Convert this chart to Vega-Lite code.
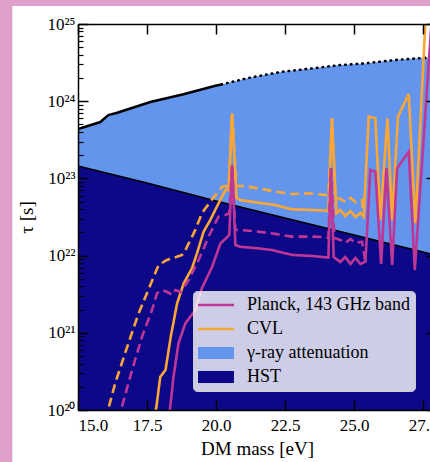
{
  "$schema": "https://vega.github.io/schema/vega-lite/v6.json",
  "autosize": "none",
  "width": 352,
  "height": 386,
  "padding": {"left": 78, "top": 24, "right": 0, "bottom": 52},
  "background": "#dfa0c9",
  "config": {
    "view": {"stroke": null},
    "axis": {
      "grid": false,
      "domainColor": "black",
      "domainWidth": 1.5,
      "tickColor": "black",
      "tickWidth": 1.5,
      "labelColor": "black",
      "titleColor": "black",
      "labelFont": "Liberation Serif",
      "titleFont": "Liberation Serif",
      "titleFontWeight": "normal",
      "labelFontSize": 17,
      "titleFontSize": 19
    }
  },
  "datasets": {
    "attenuation": [
      {"m": 15.0, "tau": 4.37e23, "label": "γ-ray attenuation"},
      {"m": 15.81, "tau": 5.37e23, "label": "γ-ray attenuation"},
      {"m": 16.1, "tau": 6.61e23, "label": "γ-ray attenuation"},
      {"m": 16.42, "tau": 7.08e23, "label": "γ-ray attenuation"},
      {"m": 17.62, "tau": 9.77e23, "label": "γ-ray attenuation"},
      {"m": 18.82, "tau": 1.23e24, "label": "γ-ray attenuation"},
      {"m": 19.98, "tau": 1.585e24, "label": "γ-ray attenuation"},
      {"m": 20.2, "tau": 1.65e24, "label": "γ-ray attenuation"},
      {"m": 21.17, "tau": 2.0e24, "label": "γ-ray attenuation"},
      {"m": 22.33, "tau": 2.39e24, "label": "γ-ray attenuation"},
      {"m": 23.6, "tau": 2.69e24, "label": "γ-ray attenuation"},
      {"m": 24.5, "tau": 2.94e24, "label": "γ-ray attenuation"},
      {"m": 25.41, "tau": 3.09e24, "label": "γ-ray attenuation"},
      {"m": 26.5, "tau": 3.42e24, "label": "γ-ray attenuation"},
      {"m": 27.51, "tau": 3.63e24, "label": "γ-ray attenuation"},
      {"m": 28.0, "tau": 3.72e24, "label": "γ-ray attenuation"}
    ],
    "hst": [
      {"m": 15.0, "tau": 1.45e23, "label": "HST"},
      {"m": 17.5, "tau": 8.71e22, "label": "HST"},
      {"m": 20.0, "tau": 5.09e22, "label": "HST"},
      {"m": 22.5, "tau": 3.07e22, "label": "HST"},
      {"m": 25.0, "tau": 1.85e22, "label": "HST"},
      {"m": 27.5, "tau": 1.11e22, "label": "HST"},
      {"m": 28.0, "tau": 1.0e22, "label": "HST"}
    ],
    "curves": [
      {"m": 15.99, "tau": 7.41e19, "series": "CVL", "style": "dashed"},
      {"m": 16.35, "tau": 2.24e20, "series": "CVL", "style": "dashed"},
      {"m": 16.83, "tau": 7.38e20, "series": "CVL", "style": "dashed"},
      {"m": 17.2, "tau": 1.8e21, "series": "CVL", "style": "dashed"},
      {"m": 17.62, "tau": 4.16e21, "series": "CVL", "style": "dashed"},
      {"m": 17.92, "tau": 7.55e21, "series": "CVL", "style": "dashed"},
      {"m": 18.04, "tau": 8.02e21, "series": "CVL", "style": "dashed"},
      {"m": 18.22, "tau": 8.77e21, "series": "CVL", "style": "dashed"},
      {"m": 18.46, "tau": 9.31e21, "series": "CVL", "style": "dashed"},
      {"m": 18.77, "tau": 1.02e22, "series": "CVL", "style": "dashed"},
      {"m": 18.89, "tau": 1.18e22, "series": "CVL", "style": "dashed"},
      {"m": 19.25, "tau": 2.15e22, "series": "CVL", "style": "dashed"},
      {"m": 19.49, "tau": 3.56e22, "series": "CVL", "style": "dashed"},
      {"m": 19.79, "tau": 4.99e22, "series": "CVL", "style": "dashed"},
      {"m": 20.22, "tau": 7.8e22, "series": "CVL", "style": "dashed"},
      {"m": 20.46, "tau": 7.98e22, "series": "CVL", "style": "dashed"},
      {"m": 20.58, "tau": 6.97e23, "series": "CVL", "style": "dashed"},
      {"m": 20.74, "tau": 7.98e22, "series": "CVL", "style": "dashed"},
      {"m": 20.94, "tau": 7.98e22, "series": "CVL", "style": "dashed"},
      {"m": 21.54, "tau": 7.45e22, "series": "CVL", "style": "dashed"},
      {"m": 22.15, "tau": 6.73e22, "series": "CVL", "style": "dashed"},
      {"m": 22.75, "tau": 6.28e22, "series": "CVL", "style": "dashed"},
      {"m": 23.36, "tau": 6.41e22, "series": "CVL", "style": "dashed"},
      {"m": 23.96, "tau": 6.1e22, "series": "CVL", "style": "dashed"},
      {"m": 24.07, "tau": 6.1e22, "series": "CVL", "style": "dashed"},
      {"m": 24.2, "tau": 6.01e23, "series": "CVL", "style": "dashed"},
      {"m": 24.32, "tau": 5.74e22, "series": "CVL", "style": "dashed"},
      {"m": 24.5, "tau": 5.41e22, "series": "CVL", "style": "dashed"},
      {"m": 24.68, "tau": 4.94e22, "series": "CVL", "style": "dashed"},
      {"m": 24.87, "tau": 5.57e22, "series": "CVL", "style": "dashed"},
      {"m": 25.05, "tau": 4.94e22, "series": "CVL", "style": "dashed"},
      {"m": 25.29, "tau": 5.25e22, "series": "CVL", "style": "dashed"},
      {"m": 25.35, "tau": 3.19e22, "series": "CVL", "style": "dashed"},

      {"m": 17.76, "tau": 7.41e19, "series": "CVL", "style": "solid"},
      {"m": 17.84, "tau": 1.1e20, "series": "CVL", "style": "solid"},
      {"m": 17.98, "tau": 2.69e20, "series": "CVL", "style": "solid"},
      {"m": 18.17, "tau": 3.3e20, "series": "CVL", "style": "solid"},
      {"m": 18.36, "tau": 8.91e20, "series": "CVL", "style": "solid"},
      {"m": 18.59, "tau": 2.41e21, "series": "CVL", "style": "solid"},
      {"m": 18.83, "tau": 4.38e21, "series": "CVL", "style": "solid"},
      {"m": 19.13, "tau": 6.86e21, "series": "CVL", "style": "solid"},
      {"m": 19.31, "tau": 1.07e22, "series": "CVL", "style": "solid"},
      {"m": 19.55, "tau": 2.04e22, "series": "CVL", "style": "solid"},
      {"m": 19.79, "tau": 2.89e22, "series": "CVL", "style": "solid"},
      {"m": 20.09, "tau": 4.75e22, "series": "CVL", "style": "solid"},
      {"m": 20.34, "tau": 7.08e22, "series": "CVL", "style": "solid"},
      {"m": 20.46, "tau": 7.08e22, "series": "CVL", "style": "solid"},
      {"m": 20.58, "tau": 6.97e23, "series": "CVL", "style": "solid"},
      {"m": 20.74, "tau": 5.57e22, "series": "CVL", "style": "solid"},
      {"m": 20.88, "tau": 5.25e22, "series": "CVL", "style": "solid"},
      {"m": 21.54, "tau": 4.84e22, "series": "CVL", "style": "solid"},
      {"m": 22.15, "tau": 4.52e22, "series": "CVL", "style": "solid"},
      {"m": 22.75, "tau": 3.98e22, "series": "CVL", "style": "solid"},
      {"m": 23.48, "tau": 3.9e22, "series": "CVL", "style": "solid"},
      {"m": 23.96, "tau": 3.82e22, "series": "CVL", "style": "solid"},
      {"m": 24.07, "tau": 3.78e22, "series": "CVL", "style": "solid"},
      {"m": 24.2, "tau": 6.01e23, "series": "CVL", "style": "solid"},
      {"m": 24.36, "tau": 3.53e22, "series": "CVL", "style": "solid"},
      {"m": 24.5, "tau": 3.9e22, "series": "CVL", "style": "solid"},
      {"m": 24.68, "tau": 3.26e22, "series": "CVL", "style": "solid"},
      {"m": 24.87, "tau": 3.78e22, "series": "CVL", "style": "solid"},
      {"m": 25.05, "tau": 3.16e22, "series": "CVL", "style": "solid"},
      {"m": 25.23, "tau": 3.56e22, "series": "CVL", "style": "solid"},
      {"m": 25.35, "tau": 3.19e22, "series": "CVL", "style": "solid"},
      {"m": 25.53, "tau": 6.3e23, "series": "CVL", "style": "solid"},
      {"m": 25.77, "tau": 6.01e23, "series": "CVL", "style": "solid"},
      {"m": 25.95, "tau": 2.89e22, "series": "CVL", "style": "solid"},
      {"m": 26.21, "tau": 6.01e23, "series": "CVL", "style": "solid"},
      {"m": 26.38, "tau": 2.89e22, "series": "CVL", "style": "solid"},
      {"m": 26.59, "tau": 6.3e23, "series": "CVL", "style": "solid"},
      {"m": 26.98, "tau": 1.24e24, "series": "CVL", "style": "solid"},
      {"m": 27.22, "tau": 2.62e22, "series": "CVL", "style": "solid"},
      {"m": 27.58, "tau": 1.02e25, "series": "CVL", "style": "solid"},
      {"m": 27.69, "tau": 3.72e25, "series": "CVL", "style": "solid"},

      {"m": 16.46, "tau": 7.41e19, "series": "Planck, 143 GHz band", "style": "dashed"},
      {"m": 16.59, "tau": 1.1e20, "series": "Planck, 143 GHz band", "style": "dashed"},
      {"m": 16.96, "tau": 3.3e20, "series": "Planck, 143 GHz band", "style": "dashed"},
      {"m": 17.32, "tau": 8.91e20, "series": "Planck, 143 GHz band", "style": "dashed"},
      {"m": 17.68, "tau": 1.97e21, "series": "Planck, 143 GHz band", "style": "dashed"},
      {"m": 17.86, "tau": 3.25e21, "series": "Planck, 143 GHz band", "style": "dashed"},
      {"m": 18.04, "tau": 3.58e21, "series": "Planck, 143 GHz band", "style": "dashed"},
      {"m": 18.22, "tau": 3.4e21, "series": "Planck, 143 GHz band", "style": "dashed"},
      {"m": 18.41, "tau": 3.09e21, "series": "Planck, 143 GHz band", "style": "dashed"},
      {"m": 18.53, "tau": 3.58e21, "series": "Planck, 143 GHz band", "style": "dashed"},
      {"m": 18.71, "tau": 3.37e21, "series": "Planck, 143 GHz band", "style": "dashed"},
      {"m": 19.01, "tau": 4.83e21, "series": "Planck, 143 GHz band", "style": "dashed"},
      {"m": 19.37, "tau": 8.77e21, "series": "Planck, 143 GHz band", "style": "dashed"},
      {"m": 19.73, "tau": 1.76e22, "series": "Planck, 143 GHz band", "style": "dashed"},
      {"m": 20.09, "tau": 3.19e22, "series": "Planck, 143 GHz band", "style": "dashed"},
      {"m": 20.34, "tau": 3.36e22, "series": "Planck, 143 GHz band", "style": "dashed"},
      {"m": 20.48, "tau": 3.55e22, "series": "Planck, 143 GHz band", "style": "dashed"},
      {"m": 20.58, "tau": 1.49e23, "series": "Planck, 143 GHz band", "style": "dashed"},
      {"m": 20.7, "tau": 2.15e22, "series": "Planck, 143 GHz band", "style": "dashed"},
      {"m": 20.88, "tau": 2.15e22, "series": "Planck, 143 GHz band", "style": "dashed"},
      {"m": 21.54, "tau": 2.04e22, "series": "Planck, 143 GHz band", "style": "dashed"},
      {"m": 22.15, "tau": 1.91e22, "series": "Planck, 143 GHz band", "style": "dashed"},
      {"m": 22.75, "tau": 1.76e22, "series": "Planck, 143 GHz band", "style": "dashed"},
      {"m": 23.48, "tau": 1.76e22, "series": "Planck, 143 GHz band", "style": "dashed"},
      {"m": 23.96, "tau": 1.73e22, "series": "Planck, 143 GHz band", "style": "dashed"},
      {"m": 24.07, "tau": 1.71e22, "series": "Planck, 143 GHz band", "style": "dashed"},
      {"m": 24.16, "tau": 1.35e23, "series": "Planck, 143 GHz band", "style": "dashed"},
      {"m": 24.29, "tau": 1.69e22, "series": "Planck, 143 GHz band", "style": "dashed"},
      {"m": 24.5, "tau": 1.59e22, "series": "Planck, 143 GHz band", "style": "dashed"},
      {"m": 24.68, "tau": 1.46e22, "series": "Planck, 143 GHz band", "style": "dashed"},
      {"m": 24.87, "tau": 1.64e22, "series": "Planck, 143 GHz band", "style": "dashed"},
      {"m": 25.05, "tau": 1.46e22, "series": "Planck, 143 GHz band", "style": "dashed"},
      {"m": 25.29, "tau": 1.51e22, "series": "Planck, 143 GHz band", "style": "dashed"},
      {"m": 25.41, "tau": 8.34e21, "series": "Planck, 143 GHz band", "style": "dashed"},

      {"m": 18.27, "tau": 7.41e19, "series": "Planck, 143 GHz band", "style": "solid"},
      {"m": 18.34, "tau": 1.1e20, "series": "Planck, 143 GHz band", "style": "solid"},
      {"m": 18.46, "tau": 2.69e20, "series": "Planck, 143 GHz band", "style": "solid"},
      {"m": 18.64, "tau": 7.31e20, "series": "Planck, 143 GHz band", "style": "solid"},
      {"m": 18.89, "tau": 1.33e21, "series": "Planck, 143 GHz band", "style": "solid"},
      {"m": 19.25, "tau": 1.97e21, "series": "Planck, 143 GHz band", "style": "solid"},
      {"m": 19.49, "tau": 3.8e21, "series": "Planck, 143 GHz band", "style": "solid"},
      {"m": 19.86, "tau": 7.18e21, "series": "Planck, 143 GHz band", "style": "solid"},
      {"m": 20.16, "tau": 1.44e22, "series": "Planck, 143 GHz band", "style": "solid"},
      {"m": 20.37, "tau": 1.69e22, "series": "Planck, 143 GHz band", "style": "solid"},
      {"m": 20.48, "tau": 1.85e22, "series": "Planck, 143 GHz band", "style": "solid"},
      {"m": 20.58, "tau": 1.49e23, "series": "Planck, 143 GHz band", "style": "solid"},
      {"m": 20.7, "tau": 1.37e22, "series": "Planck, 143 GHz band", "style": "solid"},
      {"m": 20.88, "tau": 1.3e22, "series": "Planck, 143 GHz band", "style": "solid"},
      {"m": 21.54, "tau": 1.24e22, "series": "Planck, 143 GHz band", "style": "solid"},
      {"m": 22.03, "tau": 1.18e22, "series": "Planck, 143 GHz band", "style": "solid"},
      {"m": 22.75, "tau": 1.02e22, "series": "Planck, 143 GHz band", "style": "solid"},
      {"m": 23.48, "tau": 9.89e21, "series": "Planck, 143 GHz band", "style": "solid"},
      {"m": 23.96, "tau": 9.51e21, "series": "Planck, 143 GHz band", "style": "solid"},
      {"m": 24.07, "tau": 9.46e21, "series": "Planck, 143 GHz band", "style": "solid"},
      {"m": 24.16, "tau": 1.35e23, "series": "Planck, 143 GHz band", "style": "solid"},
      {"m": 24.26, "tau": 9.59e21, "series": "Planck, 143 GHz band", "style": "solid"},
      {"m": 24.5, "tau": 8.26e21, "series": "Planck, 143 GHz band", "style": "solid"},
      {"m": 24.68, "tau": 9.59e21, "series": "Planck, 143 GHz band", "style": "solid"},
      {"m": 24.87, "tau": 7.78e21, "series": "Planck, 143 GHz band", "style": "solid"},
      {"m": 25.05, "tau": 9.31e21, "series": "Planck, 143 GHz band", "style": "solid"},
      {"m": 25.23, "tau": 7.78e21, "series": "Planck, 143 GHz band", "style": "solid"},
      {"m": 25.41, "tau": 8.34e21, "series": "Planck, 143 GHz band", "style": "solid"},
      {"m": 25.59, "tau": 1.29e23, "series": "Planck, 143 GHz band", "style": "solid"},
      {"m": 25.77, "tau": 1.22e23, "series": "Planck, 143 GHz band", "style": "solid"},
      {"m": 25.98, "tau": 7.78e21, "series": "Planck, 143 GHz band", "style": "solid"},
      {"m": 26.17, "tau": 1.35e23, "series": "Planck, 143 GHz band", "style": "solid"},
      {"m": 26.38, "tau": 7.55e21, "series": "Planck, 143 GHz band", "style": "solid"},
      {"m": 26.56, "tau": 1.35e23, "series": "Planck, 143 GHz band", "style": "solid"},
      {"m": 26.98, "tau": 2.22e23, "series": "Planck, 143 GHz band", "style": "solid"},
      {"m": 27.2, "tau": 6.5e21, "series": "Planck, 143 GHz band", "style": "solid"},
      {"m": 27.8, "tau": 1.0e25, "series": "Planck, 143 GHz band", "style": "solid"},
      {"m": 27.87, "tau": 2.75e25, "series": "Planck, 143 GHz band", "style": "solid"}
    ]
  },
  "resolve": {"axis": {"x": "independent", "y": "independent"}},
  "layer": [
    {
      "description": "white figure backdrop behind the axes frame",
      "data": {"values": [{}]},
      "mark": {"type": "rect", "fill": "white", "clip": false},
      "encoding": {
        "x": {"datum": 12.62, "type": "quantitative", "axis": null, "scale": {"domain": [15, 27.75], "nice": false, "zero": false}},
        "x2": {"datum": 29},
        "y": {"datum": 1.71e25, "type": "quantitative", "axis": null, "scale": {"type": "log", "domain": [1e20, 1e25], "nice": false}},
        "y2": {"datum": 1e19}
      }
    },
    {
      "data": {"name": "attenuation"},
      "mark": {"type": "area", "clip": true, "opacity": 1},
      "encoding": {
        "x": {
          "field": "m", "type": "quantitative",
          "axis": {
            "orient": "bottom", "values": [15, 17.5, 20, 22.5, 25, 27.5], "format": ".1f", "zindex": 2,
            "tickSize": -10, "labelPadding": 17, "title": "DM mass [eV]", "titlePadding": 6, "titleX": 179
          }
        },
        "y": {
          "field": "tau", "type": "quantitative",
          "axis": {
            "orient": "left", "values": [1e20, 1e21, 1e22, 1e23, 1e24, 1e25], "zindex": 2,
            "labelExpr": "'10' + ['²⁰','²¹','²²','²³','²⁴','²⁵'][round(log(datum.value) / LN10) - 20]",
            "tickSize": -10, "labelPadding": 13, "title": "τ [s]", "titlePadding": 10
          }
        },
        "y2": {"datum": 1e19},
        "color": {
          "field": "label", "type": "nominal",
          "scale": {
            "domain": ["Planck, 143 GHz band", "CVL", "γ-ray attenuation", "HST"],
            "range": ["#be3796", "#fca636", "#6495ed", "#0d0887"]
          },
          "legend": {
            "title": null, "orient": "none", "legendX": 115, "legendY": 267,
            "padding": 5, "rowPadding": 6, "cornerRadius": 4,
            "fillColor": "rgba(255,255,255,0.8)", "strokeColor": "#cccccc",
            "labelFont": "Liberation Serif", "labelFontSize": 18, "labelColor": "black",
            "labelOffset": 31, "labelLimit": 300,
            "symbolSize": 324, "symbolStrokeWidth": 0, "symbolOpacity": 1,
            "symbolType": {"expr": "(datum.value == 'CVL' || datum.value == 'Planck, 143 GHz band') ? 'M-1,-0.14H3V0.14H-1Z' : 'M-1,-0.68H3V0.68H-1Z'"}
          }
        }
      }
    },
    {
      "data": {"name": "hst"},
      "mark": {"type": "area", "clip": true, "opacity": 1},
      "encoding": {
        "x": {
          "field": "m", "type": "quantitative",
          "axis": {"orient": "top", "values": [15, 17.5, 20, 22.5, 25, 27.5], "labels": false, "tickSize": -10, "title": null, "zindex": 2}
        },
        "y": {
          "field": "tau", "type": "quantitative",
          "axis": {
            "orient": "left", "zindex": 2,
            "values": [2e20, 3e20, 4e20, 5e20, 6e20, 7e20, 8e20, 9e20,
                       2e21, 3e21, 4e21, 5e21, 6e21, 7e21, 8e21, 9e21,
                       2e22, 3e22, 4e22, 5e22, 6e22, 7e22, 8e22, 9e22,
                       2e23, 3e23, 4e23, 5e23, 6e23, 7e23, 8e23, 9e23,
                       2e24, 3e24, 4e24, 5e24, 6e24, 7e24, 8e24, 9e24],
            "labels": false, "domain": false, "tickSize": -5, "tickWidth": 1.2, "title": null
          }
        },
        "y2": {"datum": 1e19},
        "color": {"field": "label", "type": "nominal", "legend": null}
      }
    },
    {
      "data": {"name": "hst"},
      "mark": {"type": "line", "clip": true, "color": "black", "strokeWidth": 1.5},
      "encoding": {
        "x": {"field": "m", "type": "quantitative", "axis": null},
        "y": {
          "field": "tau", "type": "quantitative",
          "axis": {"orient": "right", "values": [1e20, 1e21, 1e22, 1e23, 1e24, 1e25], "labels": false, "domain": false, "tickSize": -4, "title": null, "zindex": 2}
        }
      }
    },
    {
      "data": {"name": "attenuation"},
      "transform": [{"filter": "datum.m <= 20.2"}],
      "mark": {"type": "line", "clip": true, "color": "black", "strokeWidth": 2.5},
      "encoding": {
        "x": {"field": "m", "type": "quantitative", "axis": null},
        "y": {"field": "tau", "type": "quantitative", "axis": null}
      }
    },
    {
      "data": {"name": "attenuation"},
      "transform": [{"filter": "datum.m >= 20.2"}],
      "mark": {"type": "line", "clip": true, "color": "black", "strokeWidth": 2.6, "strokeCap": "round", "strokeDash": [0.5, 5.2]},
      "encoding": {
        "x": {"field": "m", "type": "quantitative", "axis": null},
        "y": {"field": "tau", "type": "quantitative", "axis": null}
      }
    },
    {
      "data": {"name": "curves"},
      "transform": [{"filter": "datum.series == 'CVL'"}],
      "mark": {"type": "line", "clip": true, "strokeWidth": 2.6},
      "encoding": {
        "x": {"field": "m", "type": "quantitative", "axis": null},
        "y": {"field": "tau", "type": "quantitative", "axis": null},
        "color": {"field": "series", "type": "nominal", "legend": null},
        "strokeDash": {"field": "style", "type": "nominal", "scale": {"domain": ["solid", "dashed"], "range": [[1, 0], [9, 5]]}, "legend": null}
      }
    },
    {
      "data": {"name": "curves"},
      "transform": [{"filter": "datum.series != 'CVL'"}],
      "mark": {"type": "line", "clip": true, "strokeWidth": 2.6},
      "encoding": {
        "x": {"field": "m", "type": "quantitative", "axis": null},
        "y": {"field": "tau", "type": "quantitative", "axis": null},
        "color": {"field": "series", "type": "nominal", "legend": null},
        "strokeDash": {"field": "style", "type": "nominal", "legend": null}
      }
    }
  ]
}
